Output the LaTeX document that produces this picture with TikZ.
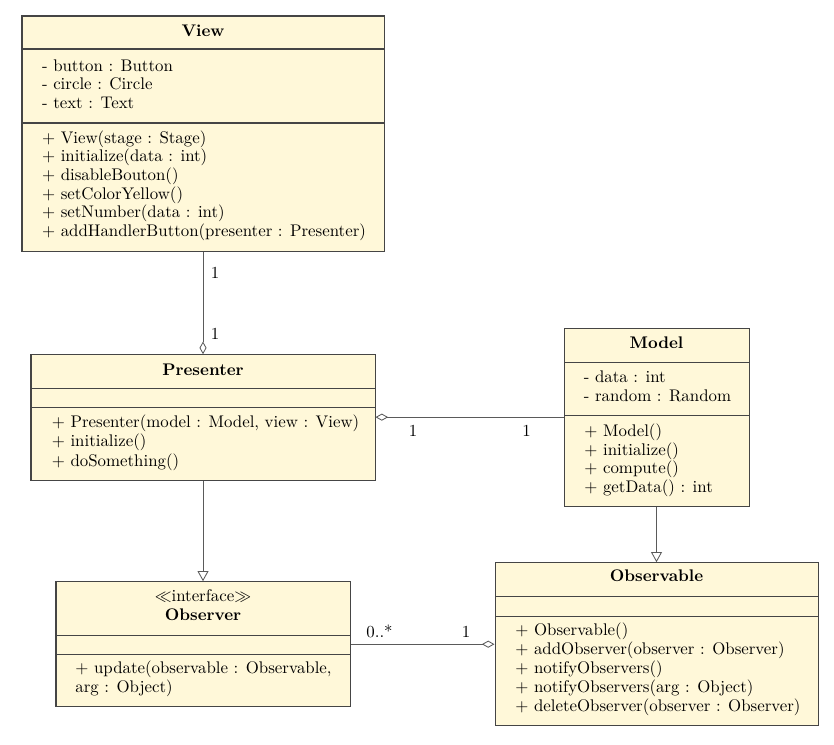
\documentclass[tikz,border=0pt]{standalone}
\usetikzlibrary{arrows.meta,fit}
\definecolor{umlfill}{HTML}{FFF8D9}
\definecolor{umlline}{HTML}{454545}
\definecolor{connline}{HTML}{5A5A5A}
\tikzset{
  cls/.style={draw=umlline, fill=umlfill, line width=0.6pt, inner sep=0pt, rectangle},
  sepline/.style={draw=umlline, line width=0.6pt},
  txt/.style={anchor=west, inner sep=0pt, text height=7pt, text depth=2.5pt},
  ttl/.style={inner sep=0pt, font=\bfseries, text height=7pt, text depth=2pt},
  conn/.style={draw=connline, line width=0.5pt},
  aggr/.style={conn, -{Diamond[open, length=7.5pt, width=4.2pt]}},
  gen/.style={conn, -{Triangle[open, length=6pt, width=6.5pt]}},
  mult/.style={inner sep=0pt},
}
\begin{document}
\begin{tikzpicture}[x=0.5935pt, y=-0.5935pt]
\useasboundingbox (0,0) rectangle (834,744);

% ---------- View ----------
\node[cls, fit={(22,16) (384,251)}] (view) {};
\draw[sepline] (22,49) -- (384,49);
\draw[sepline] (22,123) -- (384,123);
\node[ttl] (viewT) at (203,32) {View};
\foreach \t [count=\i] in {- button : Button, - circle : Circle, - text : Text}
  \node[txt] (viewA\i) at (41.7,{67.3+18.5*(\i-1)}) {\t};
\foreach \t [count=\i] in {+ View(stage : Stage), + initialize(data : int), + disableBouton(), + setColorYellow(), + setNumber(data : int), + addHandlerButton(presenter : Presenter)}
  \node[txt] (viewO\i) at (41.7,{139.3+18.65*(\i-1)}) {\t};

% ---------- Presenter ----------
\node[cls, fit={(31,354.7) (375,480)}] (presenter) {};
\draw[sepline] (31,388.3) -- (375,388.3);
\draw[sepline] (31,407.7) -- (375,407.7);
\node[ttl] (presT) at (203,371.5) {Presenter};
\foreach \t [count=\i] in {{+ Presenter(model : Model, view : View)}, + initialize(), + doSomething()}
  \node[txt] (presO\i) at (51.5,{424+19.1*(\i-1)}) {\t};

% ---------- Model ----------
\node[cls, fit={(564,328.3) (749,506)}] (model) {};
\draw[sepline] (564,362.7) -- (749,362.7);
\draw[sepline] (564,415.7) -- (749,415.7);
\node[ttl] (modelT) at (656.5,344) {Model};
\foreach \t [count=\i] in {- data : int, - random : Random}
  \node[txt] (modelA\i) at (583.5,{378.3+19*(\i-1)}) {\t};
\foreach \t [count=\i] in {+ Model(), + initialize(), + compute(), + getData() : int}
  \node[txt] (modelO\i) at (584,{432.7+18.7*(\i-1)}) {\t};

% ---------- Observer ----------
\node[cls, fit={(56,581.7) (350,706.7)}] (observer) {};
\draw[sepline] (56,635) -- (350,635);
\draw[sepline] (56,654) -- (350,654);
\node[inner sep=0pt, text height=7pt, text depth=2.5pt] (obsS) at (203,597.3) {$\ll$interface$\gg$};
\node[ttl] (obsT) at (203,616) {Observer};
\node[txt] (obsO1) at (75,670) {+ update(observable : Observable,};
\node[txt] (obsO2) at (75,689) {arg : Object)};

% ---------- Observable ----------
\node[cls, fit={(495,562.7) (818,725.7)}] (observable) {};
\draw[sepline] (495,596.7) -- (818,596.7);
\draw[sepline] (495,616) -- (818,616);
\node[ttl] (oblT) at (656.5,577.7) {Observable};
\foreach \t [count=\i] in {+ Observable(), + addObserver(observer : Observer), + notifyObservers(), + notifyObservers(arg : Object), + deleteObserver(observer : Observer)}
  \node[txt] (oblO\i) at (515,{631.7+19.1*(\i-1)}) {\t};

% ---------- Connectors ----------
\draw[aggr] (view.south) -- (view.south |- presenter.north);
\draw[aggr] (model.west) -- (model.west -| presenter.east);
\draw[gen] (presenter.south) -- (presenter.south |- observer.north);
\draw[gen] (model.south) -- (model.south |- observable.north);
\draw[aggr] (observer.east) -- (observer.east -| observable.west);

% ---------- Multiplicities ----------
\node[mult] (m1) at (215,272.5) {1};
\node[mult] (m2) at (215,334) {1};
\node[mult] (m3) at (413,430.5) {1};
\node[mult] (m4) at (526.5,430.5) {1};
\node[mult] (m5) at (379.5,631.5) {0..*};
\node[mult] (m6) at (466,631.5) {1};
\end{tikzpicture}
\end{document}
